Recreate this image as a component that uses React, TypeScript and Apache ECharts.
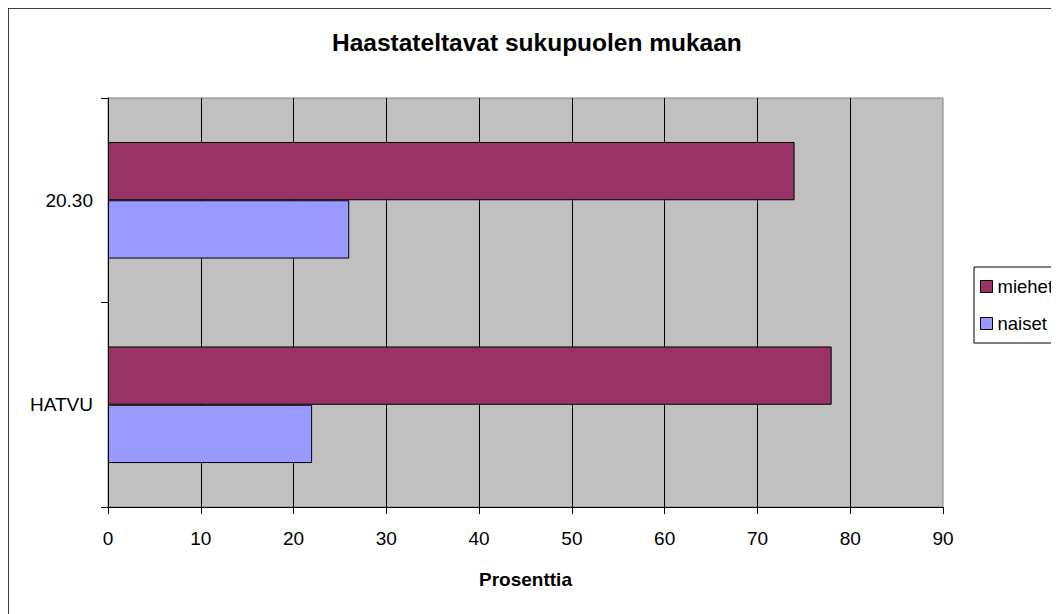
import React, { useEffect, useRef } from "react";
import * as echarts from "echarts";

const categories = ["HATVU", "20.30"];
const miehet = [78, 74];
const naiset = [22, 26];
const xTicks = { min: 0, max: 90, interval: 10 };
const titleText = "Haastateltavat sukupuolen mukaan";
const xName = "Prosenttia";

const FONT = "'Liberation Sans', Arial, sans-serif";

export default function App() {
  const ref = useRef<HTMLDivElement>(null);
  useEffect(() => {
    document.documentElement.style.overflow = "hidden";
    document.body.style.overflow = "hidden";
    const chart = echarts.init(ref.current!, null, { renderer: "svg" });
    chart.setOption({
      animation: false,
      backgroundColor: "#ffffff",
      textStyle: { fontFamily: FONT, color: "#000" },
      title: {
        text: titleText,
        left: 324,
        top: 22,
        padding: 0,
        textStyle: { fontFamily: FONT, fontSize: 24.5, fontWeight: "bold", color: "#000" },
      },
      graphic: [
        {
          type: "rect",
          shape: { x: 0, y: 0, width: 3000, height: 3000 },
          style: { fill: "none", stroke: "#000", lineWidth: 1.5 },
          silent: true,
          z: 100,
        },
      ],
      legend: {
        orient: "vertical",
        left: 966,
        top: 259,
        padding: [10, 10, 10, 6],
        itemGap: 18,
        itemWidth: 12,
        itemHeight: 12,
        icon: "rect",
        backgroundColor: "#fff",
        borderColor: "#000",
        borderWidth: 1,
        data: ["miehet", "naiset"],
        itemStyle: { borderColor: "#000", borderWidth: 1 },
        textStyle: { fontFamily: FONT, fontSize: 18.5, color: "#000" },
      },
      grid: {
        left: 100,
        top: 90,
        width: 835,
        height: 409,
        show: true,
        backgroundColor: "#C0C0C0",
        borderColor: "#808080",
        borderWidth: 1,
      },
      xAxis: {
        type: "value",
        min: xTicks.min,
        max: xTicks.max,
        interval: xTicks.interval,
        name: xName,
        nameLocation: "middle",
        nameGap: 63,
        nameTextStyle: { fontFamily: FONT, fontSize: 19, fontWeight: "bold", color: "#000" },
        axisLine: { show: true, lineStyle: { color: "#000", width: 1 } },
        axisTick: { show: true, length: 7, lineStyle: { color: "#000" } },
        axisLabel: { margin: 22, fontFamily: FONT, fontSize: 19, color: "#000" },
        splitLine: { show: true, showMaxLine: false, lineStyle: { color: "#000", width: 1 } },
      },
      yAxis: {
        type: "category",
        data: categories,
        axisLine: { show: true, lineStyle: { color: "#000", width: 1 } },
        axisTick: { show: true, length: 7, lineStyle: { color: "#000" } },
        axisLabel: { margin: 15, fontFamily: FONT, fontSize: 19, color: "#000" },
        splitLine: { show: false },
      },
      series: [
        {
          name: "miehet",
          type: "bar",
          data: miehet,
          barGap: "0%",
          barCategoryGap: "43%",
          itemStyle: { color: "#993366", borderColor: "#000", borderWidth: 1 },
        },
        {
          name: "naiset",
          type: "bar",
          data: naiset,
          barGap: "0%",
          barCategoryGap: "43%",
          itemStyle: { color: "#9999FF", borderColor: "#000", borderWidth: 1 },
        },
      ],
    });
    return () => chart.dispose();
  }, []);
  return <div ref={ref} style={{ width: 1120, height: 606 }} />;
}
